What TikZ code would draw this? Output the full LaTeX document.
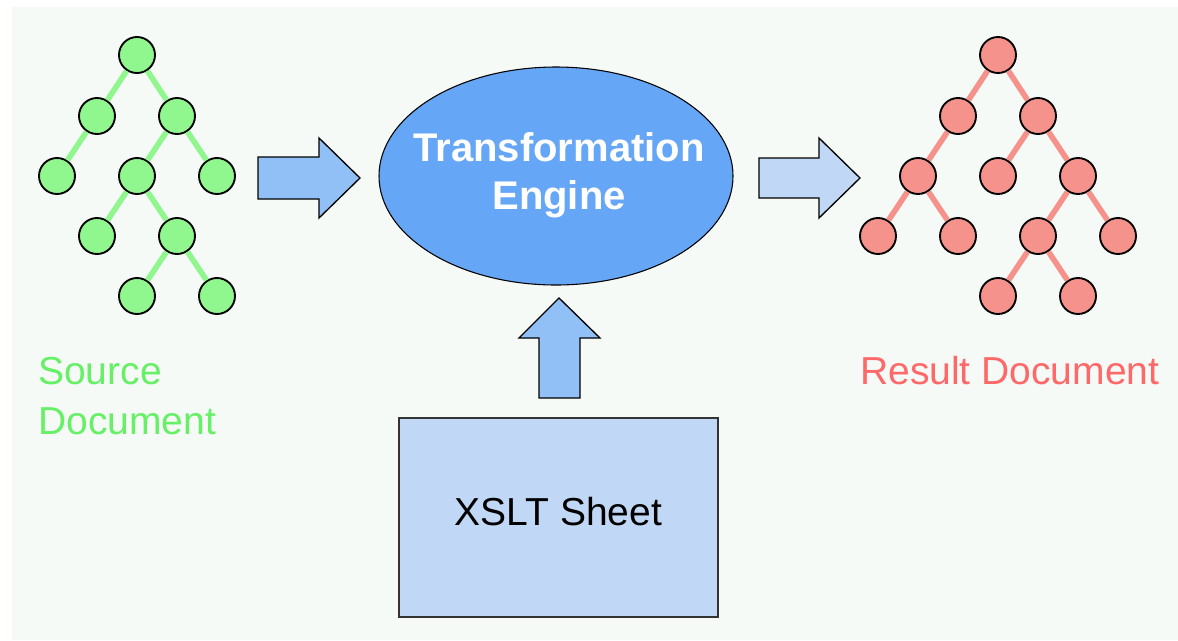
\documentclass[tikz,border=0pt]{standalone}
\usepackage{fontspec}
\setmainfont{Liberation Sans}
\usepackage{tikz}
\usetikzlibrary{shapes.geometric}

\definecolor{paperbg}{HTML}{F6FAF6}
\definecolor{srcfill}{HTML}{90F68E}
\definecolor{srctext}{HTML}{66F066}
\definecolor{resfill}{HTML}{F6928C}
\definecolor{restext}{HTML}{FF6868}
\definecolor{enginefill}{HTML}{66A6F6}
\definecolor{feedfill}{HTML}{90C0F5}
\definecolor{sheetfill}{HTML}{C0D8F5}

\tikzset{
  srcnode/.style={circle,draw=black,line width=1.4pt,fill=srcfill,minimum size=27pt,inner sep=0pt},
  resnode/.style={circle,draw=black,line width=1.4pt,fill=resfill,minimum size=27pt,inner sep=0pt},
  srcedge/.style={draw=srcfill,line width=4.2pt},
  resedge/.style={draw=resfill,line width=4.2pt},
  fatarrow/.style={draw=black,line width=1pt,line join=miter},
  bigtext/.style={font=\fontsize{29.25}{37.5}\selectfont,inner sep=0pt}
}

\begin{document}
\begin{tikzpicture}[x=0.75pt,y=0.75pt,yscale=-1]
  \useasboundingbox (0,0) rectangle (1178,640);
  \fill[white] (0,0) rectangle (1178,640);
  \fill[paperbg] (12,7) rectangle (1178,640);

  %Source tree
  \node[srcnode] (s1) at (137,55) {};
  \node[srcnode] (s2) at (97,116) {};
  \node[srcnode] (s3) at (177,116) {};
  \node[srcnode] (s4) at (57,176) {};
  \node[srcnode] (s5) at (137,176) {};
  \node[srcnode] (s6) at (217,176) {};
  \node[srcnode] (s7) at (97,236) {};
  \node[srcnode] (s8) at (177,236) {};
  \node[srcnode] (s9) at (137,296) {};
  \node[srcnode] (s10) at (217,296) {};
  \draw[srcedge] (s1) -- (s2);
  \draw[srcedge] (s1) -- (s3);
  \draw[srcedge] (s2) -- (s4);
  \draw[srcedge] (s3) -- (s5);
  \draw[srcedge] (s3) -- (s6);
  \draw[srcedge] (s5) -- (s7);
  \draw[srcedge] (s5) -- (s8);
  \draw[srcedge] (s8) -- (s9);
  \draw[srcedge] (s8) -- (s10);

  %Result tree
  \node[resnode] (r1) at (998,55) {};
  \node[resnode] (r2) at (958,116) {};
  \node[resnode] (r3) at (1038,116) {};
  \node[resnode] (r4) at (918,176) {};
  \node[resnode] (r5) at (998,176) {};
  \node[resnode] (r6) at (1078,176) {};
  \node[resnode] (r7) at (878,236) {};
  \node[resnode] (r8) at (958,236) {};
  \node[resnode] (r9) at (1038,236) {};
  \node[resnode] (r10) at (1118,236) {};
  \node[resnode] (r11) at (998,296) {};
  \node[resnode] (r12) at (1078,296) {};
  \draw[resedge] (r1) -- (r2);
  \draw[resedge] (r1) -- (r3);
  \draw[resedge] (r2) -- (r4);
  \draw[resedge] (r3) -- (r5);
  \draw[resedge] (r3) -- (r6);
  \draw[resedge] (r4) -- (r7);
  \draw[resedge] (r4) -- (r8);
  \draw[resedge] (r6) -- (r9);
  \draw[resedge] (r6) -- (r10);
  \draw[resedge] (r9) -- (r11);
  \draw[resedge] (r9) -- (r12);

  %Shape: Right Arrow (into engine)
  \draw[fatarrow,fill=feedfill] (258,157) -- (319,157) -- (319,138) -- (360,178) -- (319,218) -- (319,199) -- (258,199) -- cycle;
  %Shape: Right Arrow (out of engine)
  \draw[fatarrow,fill=sheetfill] (759,158) -- (819,158) -- (819,138) -- (860,178) -- (819,218) -- (819,198) -- (759,198) -- cycle;
  %Shape: Up Arrow
  \draw[fatarrow,fill=feedfill] (539,398) -- (539,338) -- (519,338) -- (559,298) -- (600,338) -- (580,338) -- (580,398) -- cycle;

  %Engine
  \node[ellipse,draw=black,line width=0.8pt,fill=enginefill,minimum width=265.5pt,minimum height=163.5pt,inner sep=0pt] (engine) at (556,176) {};
  \node[inner sep=0pt,text=white,align=center,font=\bfseries\fontsize{30}{36}\selectfont] (enginelabel) at (559,175) {Transformation\\Engine};

  %Sheet
  \node[draw=black!80,line width=1.2pt,fill=sheetfill,minimum width=239.25pt,minimum height=149.25pt,inner sep=0pt] (xslt) at (558.5,517.5) {};
  \node[bigtext] (xsltlabel) at ([yshift=-4.3pt]xslt.center) {XSLT Sheet};

  %Labels
  \node[bigtext,anchor=north west,align=left,text=srctext] (srclabel) at (38,356.5) {Source\\Document};
  \node[bigtext,anchor=base west,text=restext] (reslabel) at (860,384) {Result Document};
\end{tikzpicture}
\end{document}
